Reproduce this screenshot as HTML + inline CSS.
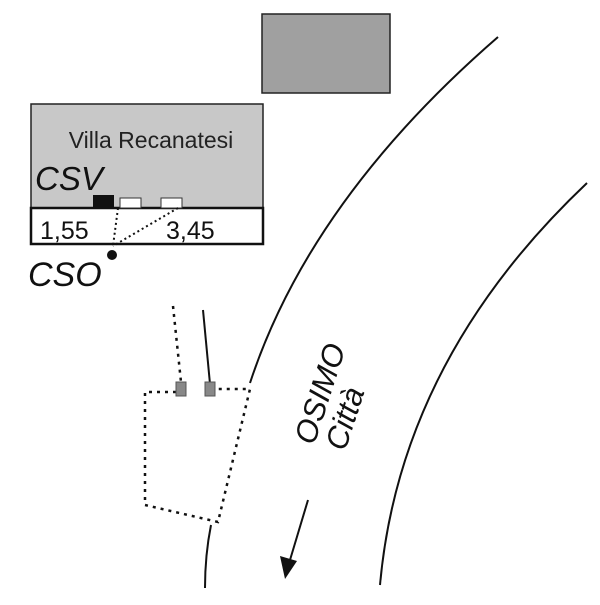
<!DOCTYPE html>
<html><head><meta charset="utf-8"><style>body{margin:0;background:#fff}</style></head><body>
<svg width="600" height="600" xmlns="http://www.w3.org/2000/svg" font-family="Liberation Sans, sans-serif">
<rect x="262" y="14" width="128" height="79" fill="#a0a0a0" stroke="#222" stroke-width="1.5"/>
<rect x="31" y="104" width="232" height="104" fill="#c8c8c8" stroke="#222" stroke-width="1.5"/>
<rect x="31" y="208" width="232" height="36" fill="#fff" stroke="#111" stroke-width="2.5"/>
<text x="151" y="148" font-size="23" text-anchor="middle" fill="#222">Villa Recanatesi</text>
<text x="35" y="190" font-size="33" font-style="italic" fill="#111">CSV</text>
<rect x="93" y="195" width="21" height="13" fill="#111"/>
<rect x="120" y="198" width="21" height="10" fill="#fff" stroke="#333"/>
<rect x="161" y="198" width="21" height="10" fill="#fff" stroke="#333"/>
<text x="40" y="239" font-size="25" fill="#111">1,55</text>
<text x="166" y="239" font-size="25" fill="#111">3,45</text>
<g stroke="#111" stroke-width="2" stroke-dasharray="2,3" fill="none">
<line x1="118" y1="208" x2="113" y2="246"/>
<line x1="178" y1="208" x2="113" y2="246"/>
</g>
<circle cx="112" cy="255" r="5" fill="#111"/>
<text x="28" y="286" font-size="34" font-style="italic" fill="#111">CSO</text>
<g stroke="#111" stroke-width="2" fill="none">
<path d="M498,37 Q310,200 250,383"/>
<path d="M211,525 Q205,555 205,588"/>
<path d="M587,183 Q400,360 380,585"/>
<line x1="203" y1="310" x2="210" y2="384"/>
</g>
<g stroke="#111" stroke-width="2.5" stroke-dasharray="3,5" fill="none">
<line x1="173" y1="306" x2="181" y2="382"/>
<polyline points="176,392 145,392 145,505 218,522 250,389 215,389"/>
</g>
<rect x="176" y="382" width="10" height="14" fill="#888" stroke="#555"/>
<rect x="205" y="382" width="10" height="14" fill="#888" stroke="#555"/>
<text transform="translate(314,446) rotate(-72)" font-size="31" font-style="italic" fill="#111">OSIMO</text>
<text transform="translate(345,452) rotate(-72)" font-size="31" font-style="italic" fill="#111">Città</text>
<line x1="308" y1="500" x2="290" y2="560" stroke="#111" stroke-width="2"/>
<polygon points="285,579 280,556 297,561" fill="#111"/>
</svg>
</body></html>
